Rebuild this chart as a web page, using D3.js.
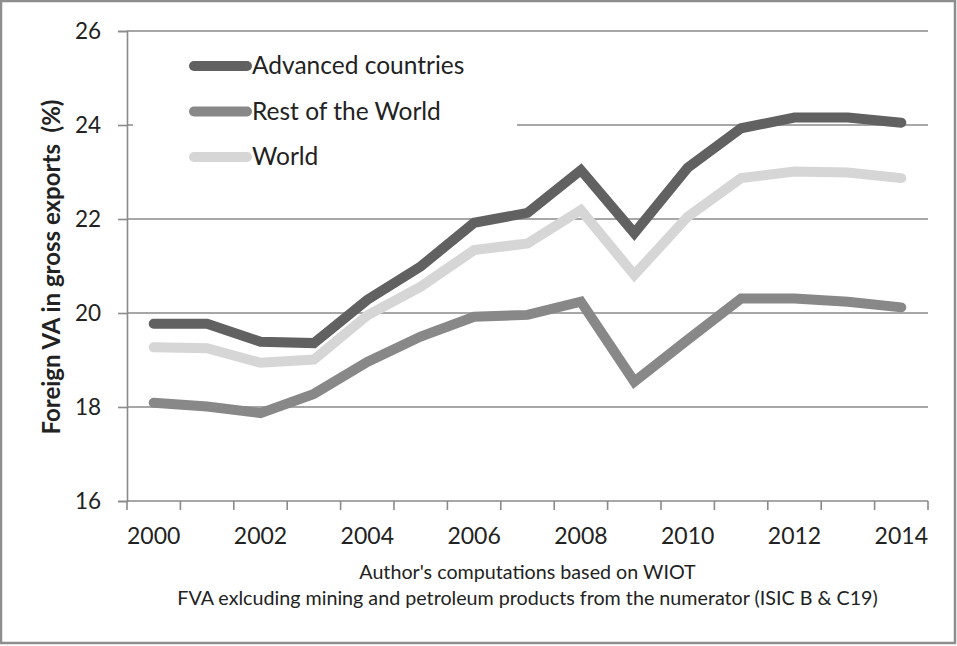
<!DOCTYPE html>
<html><head><meta charset="utf-8">
<script src="https://cdn.jsdelivr.net/npm/d3@7"></script>
<style>html,body{margin:0;padding:0;background:#fff;}svg{display:block;}</style>
</head><body>
<script>
const years = [2000,2001,2002,2003,2004,2005,2006,2007,2008,2009,2010,2011,2012,2013,2014];
const tickLabels = ["2000","2002","2004","2006","2008","2010","2012","2014"];
const yTicks = [16,18,20,22,24,26];
const advanced = [19.77,19.77,19.39,19.36,20.28,20.99,21.92,22.13,23.04,21.70,23.09,23.93,24.16,24.16,24.05];
const restOfWorld = [18.09,18.01,17.87,18.28,18.96,19.50,19.92,19.96,20.24,18.54,19.43,20.31,20.31,20.24,20.12];
const world = [19.27,19.25,18.94,19.01,19.95,20.56,21.34,21.48,22.19,20.81,22.05,22.87,23.01,22.99,22.87];
const seriesNames = ["Advanced countries","Rest of the World","World"];
const seriesColors = ["#616161","#888888","#d6d6d6"];

(function(){
const W=957,H=646;
const svg=d3.select("body").append("svg").attr("width",W).attr("height",H);
svg.append("rect").attr("x",1).attr("y",1).attr("width",W-3).attr("height",H-4)
  .attr("fill","#fff").attr("stroke","#8e8e8e").attr("stroke-width",2.5);

const pl=127,pr=928,pt=31,pb=501;
const x=d3.scaleBand().domain(years).range([pl,pr]);
const y=d3.scaleLinear().domain([16,26]).range([pb,pt]);
const font="Lato, 'Open Sans', sans-serif";

// gridlines
svg.append("g").selectAll("line").data(yTicks.filter(d=>d>16)).join("line")
  .attr("x1",pl).attr("x2",pr).attr("y1",d=>y(d)).attr("y2",d=>y(d))
  .attr("stroke","#8a8a8a").attr("stroke-width",1.6);

// y axis
const ya=svg.append("g").attr("transform",`translate(${pl},0)`)
  .call(d3.axisLeft(y).tickValues(yTicks).tickSize(9).tickPadding(17).tickFormat(d3.format("d")));
ya.select(".domain").attr("stroke","#8a8a8a").attr("stroke-width",1.6);
ya.selectAll(".tick line").attr("stroke","#8a8a8a").attr("stroke-width",1.6);
ya.selectAll("text").attr("font-family",font).attr("font-size",22.5).attr("fill","#222");

// x axis
const xa=svg.append("g").attr("transform",`translate(0,${pb})`)
  .call(d3.axisBottom(x).tickValues([]).tickSize(0));
xa.select(".domain").attr("stroke","#8a8a8a").attr("stroke-width",1.6).attr("d",`M${pl},0H${pr}`);
const bounds=years.map(d=>x(d)).concat([x(years[years.length-1])+x.bandwidth()]);
xa.selectAll("line.bt").data(bounds).join("line").attr("class","bt")
  .attr("x1",d=>d).attr("x2",d=>d).attr("y1",0).attr("y2",9)
  .attr("stroke","#8a8a8a").attr("stroke-width",1.6);
xa.selectAll("text.lbl").data(tickLabels).join("text").attr("class","lbl")
  .attr("x",d=>x(+d)+x.bandwidth()/2).attr("y",43).attr("text-anchor","middle")
  .attr("font-family",font).attr("font-size",23).attr("fill","#222").text(d=>d);

// legend box (covers part of 24 gridline)
svg.append("rect").attr("x",133).attr("y",42).attr("width",384).attr("height",140).attr("fill","#fff");

// lines
const allSeries=[advanced,restOfWorld,world];
const line=d3.line().x((d,i)=>x(years[i])+x.bandwidth()/2).y(d=>y(d));
[2,1,0].forEach(k=>{
  svg.append("path").datum(allSeries[k]).attr("d",line).attr("fill","none")
    .attr("stroke",seriesColors[k]).attr("stroke-width",10)
    .attr("stroke-linecap","round").attr("stroke-linejoin","miter");
});
// legend
const lg=svg.append("g");
seriesNames.forEach((n,i)=>{
  const ly=66+i*45.5;
  lg.append("line").attr("x1",194).attr("x2",247).attr("y1",ly).attr("y2",ly)
    .attr("stroke",seriesColors[i]).attr("stroke-width",10).attr("stroke-linecap","round");
  lg.append("text").attr("x",252).attr("y",ly+8).attr("font-family",font).attr("font-size",24.5)
    .attr("fill","#222").text(n);
});

// axis title
svg.append("text").attr("transform",`translate(60,267) rotate(-90)`).attr("text-anchor","middle")
  .attr("font-family",font).attr("font-weight","bold").attr("font-size",24).attr("fill","#222")
  .style("white-space","pre").text("Foreign VA in gross exports  (%)");

// captions
const cx=(pl+pr)/2;
svg.append("text").attr("x",cx).attr("y",579).attr("text-anchor","middle").attr("font-family",font)
  .attr("font-size",19.7).attr("fill","#222").text("Author's computations based on WIOT");
svg.append("text").attr("x",cx).attr("y",605).attr("text-anchor","middle").attr("font-family",font)
  .attr("font-size",19.7).attr("fill","#222").text("FVA exlcuding mining and petroleum products from the numerator (ISIC B & C19)");
})();
</script>
</body></html>
